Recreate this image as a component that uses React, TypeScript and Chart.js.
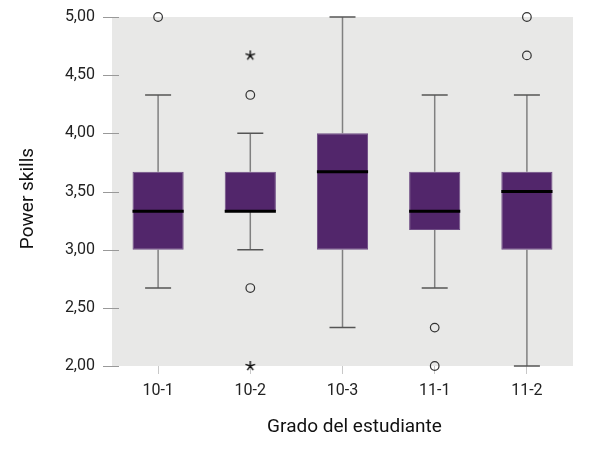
import React, { useEffect, useRef } from "react";
import { Chart, registerables } from "chart.js";

Chart.register(...registerables);

const categories = ["10-1", "10-2", "10-3", "11-1", "11-2"];
const q1 = [3.0, 3.33, 3.0, 3.17, 3.0];
const medians = [3.33, 3.33, 3.67, 3.33, 3.5];
const q3 = [3.67, 3.67, 4.0, 3.67, 3.67];
const whiskerLow = [2.67, 3.0, 2.33, 2.67, 2.0];
const whiskerHigh = [4.33, 4.0, 5.0, 4.33, 4.33];
const outlierCircles = [
  { x: "10-1", y: 5.0 },
  { x: "10-2", y: 4.33 },
  { x: "10-2", y: 2.67 },
  { x: "11-1", y: 2.33 },
  { x: "11-1", y: 2.0 },
  { x: "11-2", y: 4.67 },
  { x: "11-2", y: 5.0 },
];
const extremeStars = [
  { x: "10-2", y: 4.67 },
  { x: "10-2", y: 2.0 },
];
const yTicks = [2.0, 2.5, 3.0, 3.5, 4.0, 4.5, 5.0];
const xTitle = "Grado del estudiante";
const yTitle = "Power skills";

const FONT = "Roboto";

function makeAsterisk(): HTMLCanvasElement {
  const c = document.createElement("canvas");
  c.width = 12;
  c.height = 12;
  const g = c.getContext("2d")!;
  g.strokeStyle = "#111111";
  g.lineWidth = 1.4;
  g.beginPath();
  const r = 5;
  for (let k = 0; k < 5; k++) {
    const a = -Math.PI / 2 + (k * 2 * Math.PI) / 5;
    g.moveTo(6, 6);
    g.lineTo(6 + r * Math.cos(a), 6 + r * Math.sin(a));
  }
  g.stroke();
  return c;
}

const boxPlugin = {
  id: "boxExtras",
  beforeDraw(chart: any) {
    const { ctx, chartArea } = chart;
    ctx.save();
    ctx.fillStyle = "#e8e8e7";
    ctx.fillRect(chartArea.left, chartArea.top, chartArea.right - chartArea.left, chartArea.bottom - chartArea.top);
    ctx.restore();
  },
  beforeDatasetsDraw(chart: any) {
    const { ctx, scales } = chart;
    const xs = scales.x;
    const ys = scales.y;
    ctx.save();
    categories.forEach((c, i) => {
      const x = xs.getPixelForValue(i);
      ctx.strokeStyle = "#808080";
      ctx.lineWidth = 1.5;
      ctx.beginPath();
      ctx.moveTo(x, ys.getPixelForValue(q3[i]));
      ctx.lineTo(x, ys.getPixelForValue(whiskerHigh[i]));
      ctx.moveTo(x, ys.getPixelForValue(q1[i]));
      ctx.lineTo(x, ys.getPixelForValue(whiskerLow[i]));
      ctx.stroke();
      ctx.strokeStyle = "#555555";
      ctx.lineWidth = 1.5;
      ctx.beginPath();
      [whiskerHigh[i], whiskerLow[i]].forEach((v) => {
        const y = ys.getPixelForValue(v);
        ctx.moveTo(x - 13, y);
        ctx.lineTo(x + 13, y);
      });
      ctx.stroke();
    });
    ctx.restore();
  },
  afterDatasetsDraw(chart: any) {
    const { ctx, scales, chartArea } = chart;
    const xs = scales.x;
    const ys = scales.y;
    const meta = chart.getDatasetMeta(0);
    ctx.save();
    ctx.strokeStyle = "#000000";
    ctx.lineWidth = 3;
    categories.forEach((c, i) => {
      const bar = meta.data[i];
      const w = bar.width;
      const x = xs.getPixelForValue(i);
      const y = ys.getPixelForValue(medians[i]);
      ctx.beginPath();
      ctx.moveTo(x - w / 2, y);
      ctx.lineTo(x + w / 2, y);
      ctx.stroke();
    });
    ctx.strokeStyle = "#999999";
    ctx.lineWidth = 1;
    yTicks.forEach((v) => {
      const y = Math.round(ys.getPixelForValue(v)) + 0.5;
      ctx.beginPath();
      ctx.moveTo(chartArea.left - 9, y);
      ctx.lineTo(chartArea.left + 7, y);
      ctx.stroke();
    });
    // axis titles
    ctx.fillStyle = "#111111";
    ctx.font = `19px ${FONT}`;
    ctx.textAlign = "center";
    ctx.textBaseline = "middle";
    ctx.fillText(xTitle, (chartArea.left + chartArea.right) / 2 + 12, chartArea.bottom + 61);
    ctx.translate(28, (chartArea.top + chartArea.bottom) / 2 + 7);
    ctx.rotate(-Math.PI / 2);
    ctx.fillText(yTitle, 0, 0);
    ctx.restore();
  },
};

export default function App() {
  const ref = useRef<HTMLCanvasElement | null>(null);
  useEffect(() => {
    if (!ref.current) return;
    const star = makeAsterisk();
    const chart = new Chart(ref.current, {
      type: "bar",
      data: {
        labels: categories,
        datasets: [
          {
            type: "bar",
            label: "box",
            data: categories.map((_, i) => [q1[i], q3[i]]) as any,
            backgroundColor: "#52266b",
            borderColor: "#6e4c84",
            borderWidth: 1,
            borderSkipped: false,
            categoryPercentage: 1,
            barPercentage: 0.555,
            order: 2,
          } as any,
          {
            type: "line",
            label: "outliers",
            data: outlierCircles as any,
            showLine: false,
            pointStyle: "circle",
            pointRadius: 4.3,
            pointBorderWidth: 1.2,
            pointBorderColor: "#333333",
            pointBackgroundColor: "rgba(0,0,0,0)",
            clip: false,
            order: 1,
          } as any,
          {
            type: "line",
            label: "extremes",
            data: extremeStars as any,
            showLine: false,
            pointStyle: star,
            pointRadius: 5,
            clip: false,
            order: 1,
          } as any,
        ],
      },
      options: {
        animation: false,
        responsive: true,
        maintainAspectRatio: false,
        events: [],
        layout: { padding: { top: 17, right: 27, left: 0, bottom: 0 } },
        plugins: {
          legend: { display: false },
          tooltip: { enabled: false },
        },
        scales: {
          x: {
            type: "category",
            grid: { display: true, offset: false, drawOnChartArea: false, drawTicks: true, tickLength: 8, color: "#c8c8c8" },
            border: { display: false },
            ticks: { color: "#222222", font: { family: FONT, size: 16 }, padding: 7 },
            afterFit: (s: any) => {
              s.height = 87;
              s.paddingLeft = 0;
              s.paddingRight = 0;
            },
          },
          y: {
            type: "linear",
            min: 2,
            max: 5,
            grid: { display: false, drawTicks: false },
            border: { display: false },
            ticks: {
              stepSize: 0.5,
              color: "#222222",
              font: { family: FONT, size: 16 },
              padding: 17,
              callback: (v: any) => Number(v).toFixed(2).replace(".", ","),
            },
            afterFit: (s: any) => {
              s.width = 112;
              s.paddingTop = 0;
              s.paddingBottom = 0;
            },
          },
        },
      } as any,
      plugins: [boxPlugin],
    });
    return () => chart.destroy();
  }, []);
  return (
    <div style={{ position: "fixed", left: 0, top: 0, width: 600, height: 453, background: "#ffffff" }}>
      <canvas ref={ref} />
    </div>
  );
}
